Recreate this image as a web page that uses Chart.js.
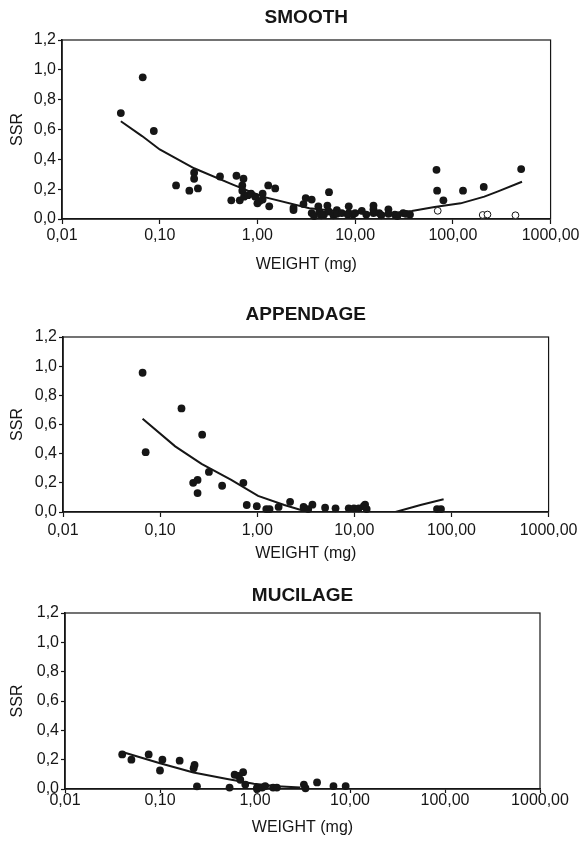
<!DOCTYPE html>
<html>
<head>
<meta charset="utf-8">
<title>SSR vs weight</title>
<script src="https://cdn.jsdelivr.net/npm/chart.js@4.4.1/dist/chart.umd.min.js"></script>
<style>
  html, body { margin: 0; padding: 0; background: #fff; }
  body { width: 583px; height: 846px; position: relative; overflow: hidden; }
  .panel { position: absolute; left: 0; width: 583px; height: 280px; }
</style>
</head>
<body>
<div class="panel" style="top:0"><canvas id="chartSmooth"></canvas></div>
<div class="panel" style="top:285px"><canvas id="chartAppendage"></canvas></div>
<div class="panel" style="top:566px"><canvas id="chartMucilage"></canvas></div>
<script>
// ---------------------------------------------
// Axis ticks and titles
// ---------------------------------------------
const xTicks = [0.01, 0.1, 1, 10, 100, 1000];
const xTickLabels = ['0,01', '0,10', '1,00', '10,00', '100,00', '1000,00'];
const yTicks = [0, 0.2, 0.4, 0.6, 0.8, 1.0, 1.2];
const yTickLabels = ['0,0', '0,2', '0,4', '0,6', '0,8', '1,0', '1,2'];
const xAxisTitle = 'WEIGHT (mg)';
const yAxisTitle = 'SSR';
const panelTitles = ['SMOOTH', 'APPENDAGE', 'MUCILAGE'];

// ---------------------------------------------
// SMOOTH
// ---------------------------------------------
const smoothWeight = [
    0.040, 0.067, 0.087, 0.147, 0.201, 0.225, 0.225, 0.246, 0.414, 0.54,
    0.61, 0.72, 0.70, 0.70, 0.66, 0.73, 0.80, 0.86, 0.95, 1.00,
    1.05, 1.13, 1.13, 1.29, 1.32, 1.52, 2.34, 2.34, 2.96, 3.12,
    3.59, 3.59, 3.8, 4.2, 4.3, 4.5, 4.8, 5.2, 5.4, 5.4,
    6.0, 6.5, 6.5, 7.3, 8.4, 8.6, 8.6, 9.5, 10.0, 11.7,
    13.0, 15.4, 15.4, 15.4, 17.6, 18.5, 21.9, 21.9, 25.5, 27,
    31, 33, 36.4, 68, 69, 80, 127, 207, 500
];
const smoothSSR = [
    0.71, 0.95, 0.59, 0.225, 0.19, 0.31, 0.27, 0.205, 0.285, 0.125,
    0.29, 0.27, 0.225, 0.19, 0.125, 0.15, 0.16, 0.17, 0.15, 0.105,
    0.12, 0.17, 0.13, 0.225, 0.085, 0.205, 0.06, 0.075, 0.10, 0.14,
    0.13, 0.04, 0.02, 0.085, 0.05, 0.025, 0.03, 0.09, 0.18, 0.05,
    0.025, 0.06, 0.035, 0.04, 0.03, 0.085, 0.04, 0.03, 0.04, 0.055,
    0.03, 0.09, 0.065, 0.04, 0.04, 0.025, 0.065, 0.035, 0.03, 0.02,
    0.04, 0.035, 0.03, 0.33, 0.19, 0.125, 0.19, 0.215, 0.335
];
const smoothOpenWeight = [70, 202, 226, 437];
const smoothOpenSSR = [0.055, 0.027, 0.03, 0.025];
const smoothFitWeight = [0.040, 0.066, 0.1, 0.225, 0.56, 1.13, 3.4, 10, 20, 38, 65, 120, 210, 290, 510];
const smoothFitSSR = [0.655, 0.556, 0.466, 0.34, 0.23, 0.15, 0.072, 0.04, 0.035, 0.054, 0.08, 0.105, 0.15, 0.185, 0.25];

// ---------------------------------------------
// APPENDAGE
// ---------------------------------------------
const appendageWeight = [
    0.066, 0.071, 0.166, 0.219, 0.243, 0.243, 0.271, 0.318, 0.435, 0.72,
    0.78, 0.99, 1.24, 1.34, 1.66, 2.18, 3.0, 3.35, 3.7, 5.0,
    6.4, 8.75, 9.9, 11.1, 12.5, 12.9, 13.4, 71, 78
];
const appendageSSR = [
    0.955, 0.41, 0.71, 0.20, 0.22, 0.13, 0.53, 0.275, 0.18, 0.20,
    0.048, 0.04, 0.02, 0.02, 0.035, 0.07, 0.035, 0.02, 0.05, 0.03,
    0.025, 0.025, 0.025, 0.025, 0.04, 0.05, 0.02, 0.02, 0.02
];
// the fitted curve dips under zero between ~3 and ~26 mg and is not drawn there
const appendageFitWeight = [0.066, 0.143, 0.267, 0.54, 1.02, 1.9, 3.3, 10, 26.5, 48, 83];
const appendageFitSSR = [0.64, 0.45, 0.33, 0.22, 0.11, 0.048, 0.0, null, 0.0, 0.048, 0.087];

// ---------------------------------------------
// MUCILAGE
// ---------------------------------------------
const mucilageWeight = [
    0.040, 0.050, 0.076, 0.100, 0.106, 0.161, 0.226, 0.231, 0.245, 0.54,
    0.61, 0.67, 0.70, 0.75, 0.79, 1.05, 1.05, 1.19, 1.28, 1.55,
    1.70, 3.27, 3.40, 4.5, 6.7, 9.0
];
const mucilageSSR = [
    0.236, 0.20, 0.236, 0.126, 0.20, 0.193, 0.142, 0.164, 0.018, 0.01,
    0.097, 0.09, 0.063, 0.115, 0.03, 0.01, 0.0, 0.01, 0.02, 0.01,
    0.01, 0.03, 0.005, 0.045, 0.02, 0.02
];
const mucilageFitWeight = [0.041, 0.1, 0.225, 0.51, 0.97, 1.71, 3.0];
const mucilageFitSSR = [0.25, 0.176, 0.112, 0.068, 0.036, 0.018, 0.01];

// ---------------------------------------------
// Drawing
// ---------------------------------------------
const INK = '#161616';
const FONT = '"Liberation Sans", Arial, Helvetica, sans-serif';

function toPoints(xs, ys) {
    return xs.map((x, i) => ({ x: x, y: ys[i] }));
}

// box round the plot area (top and right sides)
const framePlugin = {
    id: 'frame',
    beforeDatasetsDraw(chart) {
        const { ctx, chartArea: a } = chart;
        ctx.save();
        ctx.strokeStyle = INK;
        ctx.lineWidth = 1.2;
        ctx.strokeRect(a.left, a.top, a.right - a.left, a.bottom - a.top);
        ctx.restore();
    }
};

function filledSet(xs, ys) {
    return {
        data: toPoints(xs, ys),
        pointRadius: 3.9,
        pointBackgroundColor: INK,
        pointBorderColor: INK,
        pointBorderWidth: 0,
        clip: 6
    };
}

function openSet(xs, ys) {
    return {
        data: toPoints(xs, ys),
        pointRadius: 3.4,
        pointBackgroundColor: '#fff',
        pointBorderColor: INK,
        pointBorderWidth: 1,
        clip: 6
    };
}

function fitSet(xs, ys) {
    return {
        data: toPoints(xs, ys),
        showLine: true,
        spanGaps: false,
        pointRadius: 0,
        borderColor: INK,
        borderWidth: 2,
        tension: 0,
        clip: 0
    };
}

function makeChart(id, title, sets, lay) {
    return new Chart(document.getElementById(id), {
        type: 'scatter',
        data: { datasets: sets },
        options: {
            responsive: true,
            maintainAspectRatio: false,
            animation: false,
            events: [],
            layout: { padding: { left: 0, right: lay.right, top: 0, bottom: 0 } },
            plugins: {
                legend: { display: false },
                tooltip: { enabled: false },
                title: {
                    display: true,
                    text: title,
                    fullSize: false,
                    color: INK,
                    font: { family: FONT, size: 19, weight: 'bold', lineHeight: 1.2 },
                    padding: { top: lay.titleTop, bottom: lay.titleBottom }
                }
            },
            scales: {
                x: {
                    type: 'logarithmic',
                    min: 0.01,
                    max: 1000,
                    afterBuildTicks: s => { s.ticks = xTicks.map(v => ({ value: v })); },
                    afterFit: s => { s.height = lay.xHeight; },
                    ticks: {
                        autoSkip: false,
                        maxRotation: 0,
                        minRotation: 0,
                        padding: lay.xTickPad,
                        color: INK,
                        font: { family: FONT, size: 16, lineHeight: 1 },
                        callback: (v, i) => xTickLabels[i]
                    },
                    grid: { drawOnChartArea: false, drawTicks: true, tickLength: lay.xTickLen, tickColor: INK, tickWidth: 1.2 },
                    border: { display: true, color: INK, width: 1.6 },
                    title: {
                        display: true,
                        text: xAxisTitle,
                        color: INK,
                        font: { family: FONT, size: 16, lineHeight: 1.2 },
                        padding: { top: 0, bottom: lay.xTitlePad }
                    }
                },
                y: {
                    min: 0,
                    max: 1.2,
                    afterBuildTicks: s => { s.ticks = yTicks.map(v => ({ value: v })); },
                    afterFit: s => { s.width = lay.left; },
                    ticks: {
                        padding: 2,
                        color: INK,
                        font: { family: FONT, size: 16, lineHeight: 1 },
                        callback: (v, i) => yTickLabels[i]
                    },
                    grid: { drawOnChartArea: false, drawTicks: true, tickLength: 4, tickColor: INK, tickWidth: 1.2 },
                    border: { display: true, color: INK, width: 1.6 },
                    title: {
                        display: true,
                        text: yAxisTitle,
                        color: INK,
                        font: { family: FONT, size: 16, lineHeight: 1.2 },
                        padding: { top: 8, bottom: 0 }
                    }
                }
            }
        },
        plugins: [framePlugin]
    });
}

makeChart('chartSmooth', panelTitles[0], [
    filledSet(smoothWeight, smoothSSR),
    openSet(smoothOpenWeight, smoothOpenSSR),
    fitSet(smoothFitWeight, smoothFitSSR)
], { left: 62, right: 29, titleTop: 6, titleBottom: 11.2, xHeight: 61, xTickLen: 5, xTickPad: 3.5, xTitlePad: 5.4 });

makeChart('chartAppendage', panelTitles[1], [
    filledSet(appendageWeight, appendageSSR),
    fitSet(appendageFitWeight, appendageFitSSR)
], { left: 63, right: 31, titleTop: 18.6, titleBottom: 10.6, xHeight: 53, xTickLen: 5, xTickPad: 5.5, xTitlePad: 1.4 });

makeChart('chartMucilage', panelTitles[2], [
    filledSet(mucilageWeight, mucilageSSR),
    fitSet(mucilageFitWeight, mucilageFitSSR)
], { left: 65, right: 43, titleTop: 18.6, titleBottom: 5.6, xHeight: 57, xTickLen: 4, xTickPad: 0, xTitlePad: 8.4 });
</script>
</body>
</html>
